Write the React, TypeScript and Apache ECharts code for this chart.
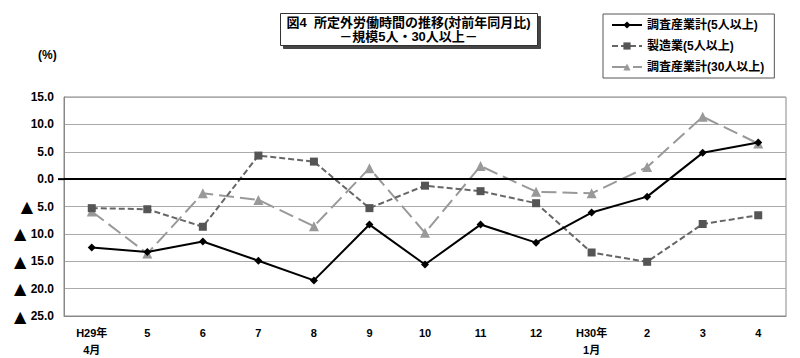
import React, { useEffect, useRef } from "react";
import * as echarts from "echarts";

const categories = ["H29年\n4月", "5", "6", "7", "8", "9", "10", "11", "12", "H30年\n1月", "2", "3", "4"];
const total5 = [-12.5, -13.3, -11.4, -14.9, -18.5, -8.3, -15.6, -8.3, -11.6, -6.1, -3.2, 4.8, 6.7];
const manuf5 = [-5.3, -5.5, -8.7, 4.3, 3.2, -5.3, -1.2, -2.2, -4.4, -13.4, -15.1, -8.2, -6.6];
const total30 = [-5.9, -13.6, -2.6, -3.8, -8.6, 2.0, -9.8, 2.4, -2.3, -2.6, 2.2, 11.4, 6.5];
const seriesNames = ["調査産業計(5人以上)", "製造業(5人以上)", "調査産業計(30人以上)"];
const titleText = "図4  所定外労働時間の推移(対前年同月比)\n－規模5人・30人以上－";

const FONT = "'Liberation Sans', Arial, 'Noto Sans CJK JP', sans-serif";

export default function App() {
  const ref = useRef<HTMLDivElement>(null);
  useEffect(() => {
    if (!ref.current) return;
    const chart = echarts.init(ref.current, null, { renderer: "svg" });
    chart.setOption({
      animation: false,
      backgroundColor: "#fff",
      textStyle: { fontFamily: FONT },
      grid: {
        left: 64,
        right: 14,
        top: 97,
        bottom: 42,
        show: true,
        borderColor: "#888",
        borderWidth: 1,
      },
      legend: {
        orient: "vertical",
        left: 603,
        top: 14,
        padding: [5, 10, 5, 8],
        itemGap: 9,
        itemWidth: 30,
        itemHeight: 9,
        borderColor: "#555",
        borderWidth: 1,
        backgroundColor: "#fff",
        textStyle: { fontSize: 12, fontWeight: "bold", color: "#000", fontFamily: FONT },
        data: seriesNames,
      },
      xAxis: {
        type: "category",
        data: categories,
        boundaryGap: true,
        axisLine: { show: true, onZero: false, lineStyle: { color: "#888" } },
        axisTick: { show: false },
        axisLabel: {
          interval: 0,
          margin: 8,
          fontSize: 11,
          fontWeight: "bold",
          color: "#000",
          lineHeight: 17,
          fontFamily: FONT,
        },
        splitLine: { show: false },
      },
      yAxis: {
        type: "value",
        min: -25,
        max: 15,
        interval: 5,
        axisLine: { show: true, lineStyle: { color: "#888" } },
        axisTick: { show: false },
        axisLabel: {
          margin: 10,
          fontSize: 12,
          fontWeight: "bold",
          color: "#000",
          fontFamily: FONT,
          formatter: (v: number) => (v < 0 ? "{t|▲} " + (-v).toFixed(1) : v.toFixed(1)),
          rich: {
            t: { fontSize: 16, fontFamily: "'DejaVu Sans', sans-serif", color: "#000", padding: [0, 1, 0, 0] },
          },
        },
        splitLine: { show: true, lineStyle: { color: "#aaa", width: 1 } },
      },
      series: [
        {
          name: seriesNames[0],
          type: "line",
          data: total5,
          symbol: "diamond",
          symbolSize: 8,
          itemStyle: { color: "#000" },
          lineStyle: { color: "#000", width: 2, type: "solid" },
          z: 5,
          markLine: {
            silent: true,
            symbol: ["none", "none"],
            label: { show: false },
            lineStyle: { color: "#000", width: 2, type: "solid" },
            data: [{ yAxis: 0 }],
          },
        },
        {
          name: seriesNames[1],
          type: "line",
          data: manuf5,
          symbol: "rect",
          symbolSize: 8,
          itemStyle: { color: "#555" },
          lineStyle: { color: "#666", width: 2, type: [6, 3] },
          z: 4,
        },
        {
          name: seriesNames[2],
          type: "line",
          data: total30,
          symbol: "triangle",
          symbolSize: 10,
          itemStyle: { color: "#999" },
          lineStyle: { color: "#999", width: 2, type: [15, 6] },
          z: 3,
        },
      ],
      graphic: [
        {
          id: "titleBox",
          type: "group",
          left: 280,
          top: 13,
          children: [
            {
              type: "rect",
              shape: { x: 0, y: 0, width: 257, height: 32 },
              style: {
                fill: "#fff",
                stroke: "#333",
                lineWidth: 1,
                shadowBlur: 0,
                shadowOffsetX: 3,
                shadowOffsetY: 3,
                shadowColor: "#444",
              },
            },
            {
              type: "text",
              x: 128,
              y: 2,
              style: {
                text: titleText,
                fontSize: 13,
                fontWeight: "bold",
                fontFamily: FONT,
                fill: "#000",
                textAlign: "center",
                textVerticalAlign: "top",
                lineHeight: 14,
              },
            },
          ],
        },
        {
          id: "unitText",
          type: "text",
          left: 38,
          top: 49,
          style: {
            text: "(%)",
            fontSize: 12,
            fontWeight: "bold",
            fontFamily: FONT,
            fill: "#000",
          },
        },
      ],
    });
    const y0 = chart.convertToPixel({ yAxisIndex: 0 }, 0) as unknown;
    if (typeof y0 === "number") {
      chart.setOption({
        graphic: [
          {
            id: "zeroTick",
            type: "line",
            shape: { x1: 58, y1: y0, x2: 64, y2: y0 },
            style: { stroke: "#000", lineWidth: 2 },
          },
        ],
      });
    }
    return () => chart.dispose();
  }, []);
  return (
    <div
      ref={ref}
      style={{ position: "fixed", left: 0, top: 0, width: 800, height: 358 }}
    />
  );
}
